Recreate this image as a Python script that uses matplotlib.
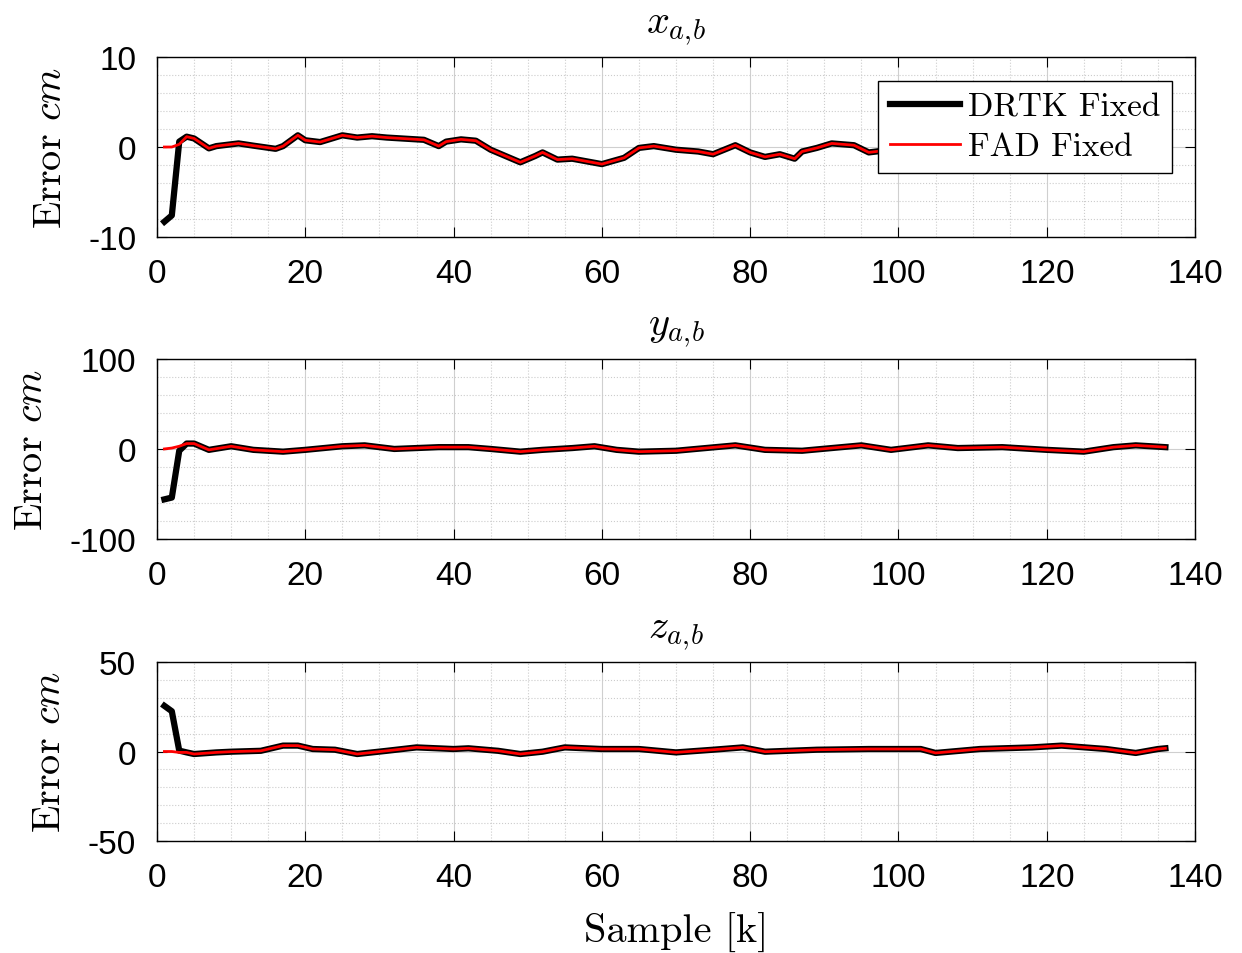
import matplotlib
matplotlib.use("Agg")
import matplotlib.pyplot as plt
from matplotlib.ticker import MultipleLocator

matplotlib.rc('font', family='Liberation Sans', size=24)
matplotlib.rc('mathtext', fontset='cm')
matplotlib.rc('axes', unicode_minus=False)

# x_{a,b} error (cm)
k_x = [1, 2, 3, 4, 5, 7, 8, 11, 13, 16, 17, 19, 20, 22, 25, 27, 29, 31, 33, 36,
       38, 39, 41, 43, 45, 49, 51, 52, 54, 56, 58, 60, 63, 65, 67, 70, 73, 75, 78, 80,
       82, 84, 86, 87, 89, 91, 94, 96, 99, 102, 106, 110, 114, 118, 122, 126, 130, 133, 136]
drtk_x = [-8.3, -7.6, 0.6, 1.15, 0.95, -0.15, 0.1, 0.4, 0.15, -0.2, 0.1, 1.3, 0.75, 0.55, 1.3, 1.05, 1.2, 1.05, 0.95, 0.8,
          0.1, 0.6, 0.85, 0.7, -0.3, -1.7, -1.0, -0.6, -1.4, -1.3, -1.6, -1.9, -1.2, -0.1, 0.1, -0.3, -0.5, -0.8, 0.2, -0.6,
          -1.1, -0.8, -1.3, -0.5, -0.1, 0.4, 0.2, -0.6, -0.3, 0.2, -0.4, 0.1, -0.3, 0.3, 0.0, -0.4, 0.2, -0.2, 0.1]
fad_x = [0.0, 0.0, 0.3, 1.15, 0.95, -0.15, 0.1, 0.4, 0.15, -0.2, 0.1, 1.3, 0.75, 0.55, 1.3, 1.05, 1.2, 1.05, 0.95, 0.8,
         0.1, 0.6, 0.85, 0.7, -0.3, -1.7, -1.0, -0.6, -1.4, -1.3, -1.6, -1.9, -1.2, -0.1, 0.1, -0.3, -0.5, -0.8, 0.2, -0.6,
         -1.1, -0.8, -1.3, -0.5, -0.1, 0.4, 0.2, -0.6, -0.3, 0.2, -0.4, 0.1, -0.3, 0.3, 0.0, -0.4, 0.2, -0.2, 0.1]

# y_{a,b}
k_y = [1, 2, 3, 4, 5, 7, 10, 13, 17, 20, 25, 28, 32, 35, 38, 42, 45, 49, 52, 56,
       59, 62, 65, 70, 74, 78, 82, 87, 91, 95, 99, 104, 108, 114, 120, 125, 129, 132, 136]
drtk_y = [-56, -54, -2, 6, 6, -1, 3, -1, -3, -1, 3, 4, 0, 1, 2, 2, 0, -3, -1, 1,
          3, -1, -3, -2, 1, 4, -1, -2, 1, 4, -1, 4, 1, 2, -1, -3, 2, 4, 2]
fad_y = [0, 1, 3, 6, 6, -1, 3, -1, -3, -1, 3, 4, 0, 1, 2, 2, 0, -3, -1, 1,
         3, -1, -3, -2, 1, 4, -1, -2, 1, 4, -1, 4, 1, 2, -1, -3, 2, 4, 2]

# z_{a,b}
k_z = [1, 2, 3, 4, 5, 8, 10, 14, 17, 19, 21, 24, 27, 31, 35, 40, 42, 46, 49, 52,
       55, 60, 65, 70, 75, 79, 82, 89, 96, 103, 105, 111, 118, 122, 128, 132, 135, 136]
drtk_z = [25.5, 22.5, 0.5, -0.5, -1.4, -0.5, -0.1, 0.4, 3.3, 3.3, 1.4, 1.0, -1.4, 0.4, 2.3, 1.4, 1.8, 0.4, -1.4, -0.1,
          2.3, 1.4, 1.4, -0.5, 1.0, 2.3, -0.1, 1.0, 1.4, 1.4, -0.8, 1.4, 2.3, 3.3, 1.4, -0.8, 1.4, 1.8]
fad_z = [0.0, 0.0, -0.5, -0.5, -1.4, -0.5, -0.1, 0.4, 3.3, 3.3, 1.4, 1.0, -1.4, 0.4, 2.3, 1.4, 1.8, 0.4, -1.4, -0.1,
         2.3, 1.4, 1.4, -0.5, 1.0, 2.3, -0.1, 1.0, 1.4, 1.4, -0.8, 1.4, 2.3, 3.3, 1.4, -0.8, 1.4, 1.8]

serif = 'cmr10'


def panel(rect, k, drtk, fad, title, ylim, ymajor, yminor):
    ax = fig.add_axes(rect)
    ax.plot(k, drtk, color='black', linewidth=4.5, label='DRTK Fixed', zorder=3)
    ax.plot(k, fad, color='red', linewidth=2, label='FAD Fixed', zorder=4)
    ax.set_xlim(0, 140)
    ax.set_ylim(ylim)
    ax.xaxis.set_major_locator(MultipleLocator(20))
    ax.xaxis.set_minor_locator(MultipleLocator(5))
    ax.yaxis.set_major_locator(MultipleLocator(ymajor))
    ax.yaxis.set_minor_locator(MultipleLocator(yminor))
    ax.grid(True, which='major', color='#cfcfcf', linestyle='-', linewidth=0.8)
    ax.grid(True, which='minor', color='#cccccc', linestyle=':', linewidth=0.8)
    ax.tick_params(which='major', direction='in', top=True, right=True,
                   length=7, width=0.8, pad=15, labelsize=24)
    ax.tick_params(which='minor', length=0)
    for s in ax.spines.values():
        s.set_linewidth(1.0)
    ax.set_title(title, fontsize=29, pad=18)
    ax.set_ylabel(r'Error $cm$', family=serif, fontsize=29, labelpad=14)
    return ax


fig = plt.figure(figsize=(12.42, 9.54), dpi=100)

ax1 = panel([0.1264, 0.7505, 0.8358, 0.1887], k_x, drtk_x, fad_x, r'$x_{a,\!b}$', (-10, 10), 10, 2)
ax1.legend(loc='upper right', bbox_to_anchor=(0.978, 0.867), prop={'family': serif, 'size': 24},
           fancybox=False, framealpha=1, edgecolor='black', handlelength=2.1,
           handletextpad=0.25, borderpad=0.35, labelspacing=0.3, borderaxespad=0)

ax2 = panel([0.1264, 0.4340, 0.8358, 0.1887], k_y, drtk_y, fad_y, r'$y_{a,\!b}$', (-100, 100), 100, 20)
ax3 = panel([0.1264, 0.1174, 0.8358, 0.1876], k_z, drtk_z, fad_z, r'$z_{a,\!b}$', (-50, 50), 50, 10)
ax3.set_xlabel('Sample [k]', family=serif, fontsize=29, labelpad=14)

fig.savefig('out.png', dpi=100)
